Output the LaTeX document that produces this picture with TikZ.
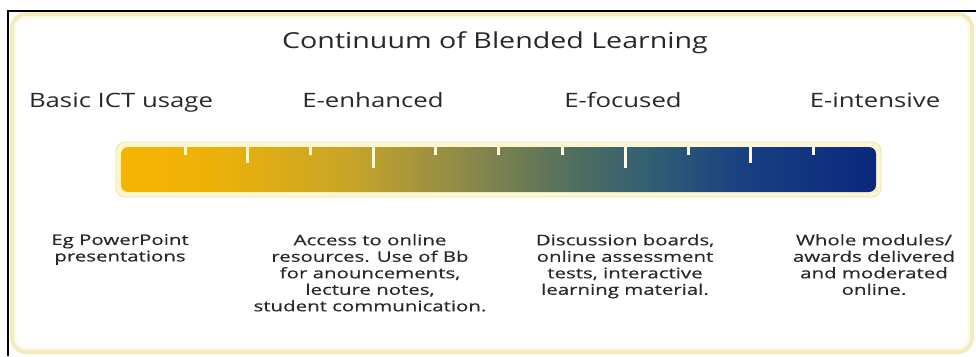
\documentclass[tikz,border=0pt]{standalone}
\usepackage{fontspec}
\setmainfont{Open Sans}[FakeStretch=1.3]
\newfontfamily\notefont{Open Sans}[FakeStretch=1.4, FakeBold=0.5]
\definecolor{ink}{RGB}{40,40,40}
\definecolor{frame}{RGB}{243,234,190}
\definecolor{framein}{RGB}{251,248,228}
\definecolor{halo}{RGB}{253,246,210}
\definecolor{haloedge}{RGB}{238,226,170}
\definecolor{tick}{RGB}{255,249,222}
\definecolor{cA}{RGB}{245,180,0}
\definecolor{cB}{RGB}{238,177,8}
\definecolor{cC}{RGB}{200,165,40}
\definecolor{cD}{RGB}{135,135,75}
\definecolor{cE}{RGB}{80,110,95}
\definecolor{cF}{RGB}{50,95,115}
\definecolor{cG}{RGB}{25,65,130}
\definecolor{cH}{RGB}{10,40,125}
% colour ramp of the bar, stretched over its width (25bp..75bp)
\pgfdeclarehorizontalshading{blendbar}{100bp}{%
  color(0bp)=(cA); color(25bp)=(cA); color(31bp)=(cB); color(40bp)=(cC);
  color(48.5bp)=(cD); color(55bp)=(cE); color(60bp)=(cF); color(66bp)=(cG);
  color(75bp)=(cH); color(100bp)=(cH)}
\tikzset{
  title/.style={text=ink, font=\fontsize{22}{25}\selectfont, inner sep=0pt},
  stage/.style={text=ink, font=\fontsize{19.8}{23}\selectfont, inner sep=0pt},
  note/.style={text=ink, font=\notefont\fontsize{14.6}{16.5}\selectfont, inner sep=0pt,
    align=center, anchor=north},
  tickmark/.style={draw=tick, line width=3pt},
}
\begin{document}
\begin{tikzpicture}[x=1pt,y=-1pt]
\useasboundingbox (0,0) rectangle (976,356);
\fill[white] (0,0) rectangle (976,356);
% panel with soft cream rim
\draw[frame, line width=4pt, rounded corners=14pt] (12,14) rectangle (972,352);
\draw[framein, line width=2pt, rounded corners=11pt] (15,17) rectangle (969,349);
% black rules on top and left
\draw[black, line width=2.5pt] (8,11) -- (976,11);
\draw[black, line width=2.5pt] (8,10) -- (8,356);
% the continuum bar
\draw[haloedge, fill=halo, line width=0.8pt, rounded corners=9pt] (116,142) rectangle (881,197);
\shade[shading=blendbar, shading angle=0, rounded corners=7pt] (121,147) rectangle (876,192);
% scale ticks
\foreach \x/\len in {185/8, 247/16, 310/8, 373/21, 435/8, 498/8, 562/8, 625/21, 688/8, 750/16, 813/8}
  \draw[tickmark] (\x,147) -- (\x,147+\len);
% texts
\node[title, anchor=base] (ttl) at (495,48) {Continuum of Blended Learning};
\node[stage, anchor=base] (s1) at (121,107) {Basic ICT usage};
\node[stage, anchor=base] (s2) at (373,107) {E-enhanced};
\node[stage, anchor=base] (s3) at (623,107) {E-focused};
\node[stage, anchor=base] (s4) at (875,107) {E-intensive};
\node[note] (n1) at (120,234) {Eg PowerPoint\\presentations};
\node[note] (n2) at (370,234) {Access to online\\resources. Use of Bb\\for anouncements,\\lecture notes,\\student communication.};
\node[note] (n3) at (625,234) {Discussion boards,\\online assessment\\tests, interactive\\learning material.};
\node[note] (n4) at (874,234) {Whole modules/\\awards delivered\\and moderated\\online.};
\end{tikzpicture}
\end{document}
